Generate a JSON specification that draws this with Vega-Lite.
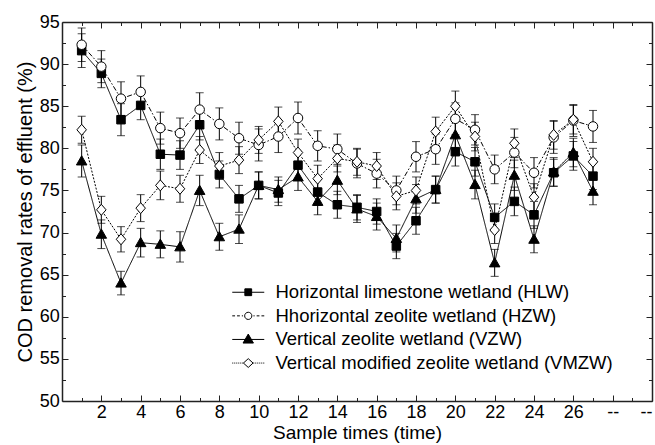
{
  "$schema": "https://vega.github.io/schema/vega-lite/v6.json",
  "width": 590,
  "height": 379,
  "autosize": {"type": "none"},
  "padding": {"left": 62, "top": 22, "right": 3, "bottom": 44},
  "background": "white",
  "config": {
    "view": {"stroke": null},
    "font": "Liberation Sans",
    "axis": {
      "grid": false,
      "domainColor": "#222222",
      "domainWidth": 1.5,
      "tickColor": "#222222",
      "tickWidth": 1,
      "labelFont": "Liberation Sans",
      "labelFontSize": 18,
      "labelColor": "black",
      "titleFont": "Liberation Sans",
      "titleFontSize": 20,
      "titleFontWeight": "normal",
      "titleColor": "black",
      "labelFlush": false,
      "labelOverlap": false
    }
  },
  "data": {
    "values": [
      {"x":1,"series":"HLW","y":91.6,"err":2.0},{"x":2,"series":"HLW","y":88.9,"err":1.7},{"x":3,"series":"HLW","y":83.4,"err":1.9},{"x":4,"series":"HLW","y":85.1,"err":1.7},{"x":5,"series":"HLW","y":79.3,"err":1.8},{"x":6,"series":"HLW","y":79.2,"err":1.7},{"x":7,"series":"HLW","y":82.8,"err":1.8},{"x":8,"series":"HLW","y":76.9,"err":1.6},{"x":9,"series":"HLW","y":74.0,"err":1.6},{"x":10,"series":"HLW","y":75.6,"err":1.6},{"x":11,"series":"HLW","y":74.7,"err":1.5},{"x":12,"series":"HLW","y":78.0,"err":1.6},{"x":13,"series":"HLW","y":74.8,"err":1.6},{"x":14,"series":"HLW","y":73.3,"err":1.6},{"x":15,"series":"HLW","y":73.0,"err":1.5},{"x":16,"series":"HLW","y":72.5,"err":1.5},{"x":17,"series":"HLW","y":68.4,"err":1.5},{"x":18,"series":"HLW","y":71.4,"err":1.6},{"x":19,"series":"HLW","y":75.1,"err":1.6},{"x":20,"series":"HLW","y":79.6,"err":1.7},{"x":21,"series":"HLW","y":78.4,"err":1.7},{"x":22,"series":"HLW","y":71.8,"err":1.6},{"x":23,"series":"HLW","y":73.7,"err":1.7},{"x":24,"series":"HLW","y":72.1,"err":1.6},{"x":25,"series":"HLW","y":77.1,"err":1.6},{"x":26,"series":"HLW","y":79.1,"err":1.7},{"x":27,"series":"HLW","y":76.7,"err":1.6},
      {"x":1,"series":"HZW","y":92.3,"err":2.0},{"x":2,"series":"HZW","y":89.7,"err":1.9},{"x":3,"series":"HZW","y":85.9,"err":2.0},{"x":4,"series":"HZW","y":86.7,"err":1.9},{"x":5,"series":"HZW","y":82.4,"err":1.9},{"x":6,"series":"HZW","y":81.8,"err":1.8},{"x":7,"series":"HZW","y":84.6,"err":2.0},{"x":8,"series":"HZW","y":82.9,"err":1.9},{"x":9,"series":"HZW","y":81.2,"err":1.9},{"x":10,"series":"HZW","y":80.4,"err":1.9},{"x":11,"series":"HZW","y":81.4,"err":1.9},{"x":12,"series":"HZW","y":83.6,"err":1.9},{"x":13,"series":"HZW","y":80.3,"err":1.8},{"x":14,"series":"HZW","y":79.9,"err":1.8},{"x":15,"series":"HZW","y":78.2,"err":1.7},{"x":16,"series":"HZW","y":77.0,"err":1.7},{"x":17,"series":"HZW","y":75.0,"err":1.7},{"x":18,"series":"HZW","y":79.0,"err":1.8},{"x":19,"series":"HZW","y":79.9,"err":1.8},{"x":20,"series":"HZW","y":83.5,"err":1.9},{"x":21,"series":"HZW","y":82.2,"err":1.8},{"x":22,"series":"HZW","y":77.5,"err":1.7},{"x":23,"series":"HZW","y":79.5,"err":1.8},{"x":24,"series":"HZW","y":77.1,"err":1.8},{"x":25,"series":"HZW","y":81.3,"err":1.9},{"x":26,"series":"HZW","y":83.3,"err":1.9},{"x":27,"series":"HZW","y":82.6,"err":1.9},
      {"x":1,"series":"VZW","y":78.5,"err":1.9},{"x":2,"series":"VZW","y":69.8,"err":1.7},{"x":3,"series":"VZW","y":64.0,"err":1.4},{"x":4,"series":"VZW","y":68.8,"err":1.7},{"x":5,"series":"VZW","y":68.6,"err":1.6},{"x":6,"series":"VZW","y":68.3,"err":1.8},{"x":7,"series":"VZW","y":75.0,"err":1.8},{"x":8,"series":"VZW","y":69.5,"err":1.6},{"x":9,"series":"VZW","y":70.4,"err":1.7},{"x":10,"series":"VZW","y":75.6,"err":1.6},{"x":11,"series":"VZW","y":75.1,"err":1.5},{"x":12,"series":"VZW","y":76.6,"err":1.6},{"x":13,"series":"VZW","y":73.7,"err":1.6},{"x":14,"series":"VZW","y":76.2,"err":1.7},{"x":15,"series":"VZW","y":72.8,"err":1.6},{"x":16,"series":"VZW","y":71.9,"err":1.6},{"x":17,"series":"VZW","y":69.3,"err":1.6},{"x":18,"series":"VZW","y":74.0,"err":1.7},{"x":19,"series":"VZW","y":75.1,"err":1.6},{"x":20,"series":"VZW","y":81.6,"err":1.8},{"x":21,"series":"VZW","y":75.7,"err":1.7},{"x":22,"series":"VZW","y":66.4,"err":1.6},{"x":23,"series":"VZW","y":76.8,"err":1.8},{"x":24,"series":"VZW","y":69.2,"err":1.6},{"x":25,"series":"VZW","y":77.2,"err":1.7},{"x":26,"series":"VZW","y":79.5,"err":1.7},{"x":27,"series":"VZW","y":74.9,"err":1.6},
      {"x":1,"series":"VMZW","y":82.2,"err":1.6},{"x":2,"series":"VMZW","y":72.7,"err":1.6},{"x":3,"series":"VMZW","y":69.2,"err":1.5},{"x":4,"series":"VMZW","y":72.9,"err":1.6},{"x":5,"series":"VMZW","y":75.6,"err":1.7},{"x":6,"series":"VMZW","y":75.2,"err":1.6},{"x":7,"series":"VMZW","y":79.8,"err":1.6},{"x":8,"series":"VMZW","y":77.9,"err":1.6},{"x":9,"series":"VMZW","y":78.6,"err":1.6},{"x":10,"series":"VMZW","y":81.0,"err":1.6},{"x":11,"series":"VMZW","y":83.2,"err":1.7},{"x":12,"series":"VMZW","y":79.5,"err":1.6},{"x":13,"series":"VMZW","y":76.4,"err":1.6},{"x":14,"series":"VMZW","y":78.8,"err":1.6},{"x":15,"series":"VMZW","y":78.4,"err":1.6},{"x":16,"series":"VMZW","y":77.9,"err":1.6},{"x":17,"series":"VMZW","y":74.3,"err":1.6},{"x":18,"series":"VMZW","y":75.0,"err":1.6},{"x":19,"series":"VMZW","y":82.0,"err":1.7},{"x":20,"series":"VMZW","y":85.0,"err":1.8},{"x":21,"series":"VMZW","y":81.4,"err":1.7},{"x":22,"series":"VMZW","y":70.3,"err":1.6},{"x":23,"series":"VMZW","y":80.6,"err":1.7},{"x":24,"series":"VMZW","y":74.2,"err":1.6},{"x":25,"series":"VMZW","y":81.6,"err":1.7},{"x":26,"series":"VMZW","y":83.4,"err":1.7},{"x":27,"series":"VMZW","y":78.4,"err":1.6}
    ]
  },
  "resolve": {
    "axis": {"x": "independent", "y": "independent"},
    "scale": {"shape": "independent", "fill": "independent"},
    "legend": {"shape": "independent", "fill": "independent"}
  },
  "layer": [
    {
      "mark": {"type": "errorbar", "ticks": true, "size": 8, "thickness": 1, "color": "black"},
      "encoding": {
        "x": {"field": "x", "type": "quantitative", "scale": {"domain": [0, 30], "nice": false}, "axis": null},
        "y": {"field": "y", "type": "quantitative", "scale": {"domain": [50, 95], "nice": false, "zero": false}, "axis": null},
        "yError": {"field": "err"},
        "detail": {"field": "series", "type": "nominal"}
      }
    },
    {
      "mark": {"type": "line", "color": "black", "strokeWidth": 1},
      "encoding": {
        "x": {"field": "x", "type": "quantitative", "scale": {"domain": [0, 30], "nice": false},
              "axis": {"orient": "top", "values": [2,4,6,8,10,12,14,16,18,20,22,24,26,28,30], "tickSize": -6, "labels": false, "title": null}},
        "y": {"field": "y", "type": "quantitative", "scale": {"domain": [50, 95], "nice": false, "zero": false},
              "axis": {"orient": "right", "values": [50,55,60,65,70,75,80,85,90,95], "tickSize": -6, "labels": false, "title": null}},
        "strokeDash": {"field": "series", "type": "nominal",
                       "scale": {"domain": ["HLW","HZW","VZW","VMZW"], "range": [[1,0],[5,2,1.5,2],[1,0],[2,1.5]]},
                       "legend": null}
      }
    },
    {
      "mark": {"type": "point", "filled": true, "stroke": "black", "strokeWidth": 1, "opacity": 1, "size": 100},
      "encoding": {
        "x": {"field": "x", "type": "quantitative", "scale": {"domain": [0, 30], "nice": false},
              "axis": {"orient": "bottom", "values": [2,4,6,8,10,12,14,16,18,20,22,24,26,28,30], "tickSize": -6, "labelPadding": 8.5,
                       "labelExpr": "datum.value >= 28 ? '--' : datum.label",
                       "labelAlign": {"condition": {"test": "datum.value == 30", "value": "right"}, "value": "center"},
                       "title": "Sample times (time)", "titleFontSize": 19, "titlePadding": 2}},
        "y": {"field": "y", "type": "quantitative", "scale": {"domain": [50, 95], "nice": false, "zero": false},
              "axis": {"orient": "left", "values": [50,55,60,65,70,75,80,85,90,95], "tickSize": -6, "labelPadding": 8.7,
                       "title": "COD removal rates of effluent (%)", "titlePadding": 4}},
        "shape": {"field": "series", "type": "nominal",
                  "scale": {"domain": ["HLW","HZW","VZW","VMZW"],
                            "range": ["M-0.85,-0.85H0.85V0.85H-0.85Z",
                                      "M0.95,0A0.95,0.95,0,1,1,-0.95,0A0.95,0.95,0,1,1,0.95,0Z",
                                      "M0,-1.05L1.05,0.8H-1.05Z",
                                      "M0,-1.1L0.95,0L0,1.1L-0.95,0Z"]},
                  "legend": null},
        "fill": {"field": "series", "type": "nominal",
                 "scale": {"domain": ["HLW","HZW","VZW","VMZW"], "range": ["black","white","black","white"]},
                 "legend": null}
      }
    },
    {
      "transform": [{"filter": "datum.x > 1000"}],
      "mark": {"type": "point", "filled": true, "stroke": "black", "strokeWidth": 1, "opacity": 1},
      "encoding": {
        "x": {"field": "x", "type": "quantitative", "scale": {"domain": [0, 30], "nice": false},
              "axis": {"orient": "bottom", "values": [1,3,5,7,9,11,13,15,17,19,21,23,25,27,29], "tickSize": -3.5, "labels": false, "domain": false, "title": null}},
        "y": {"field": "y", "type": "quantitative", "scale": {"domain": [50, 95], "nice": false, "zero": false},
              "axis": {"orient": "left", "values": [52.5,57.5,62.5,67.5,72.5,77.5,82.5,87.5,92.5], "tickSize": -3.5, "labels": false, "domain": false, "title": null}},
        "shape": {"field": "series", "type": "nominal",
                  "scale": {"domain": ["HLW","HZW","VZW","VMZW"],
                            "range": ["M-8,0H8M-1.7,-1.7H1.7V1.7H-1.7Z",
                                      "M-8,0H-6.6M-5.6,0H-4.2M-3.2,0H-2.6M2.6,0H3.2M4.2,0H5.6M6.6,0H8M1.8,0A1.8,1.8,0,1,1,-1.8,0A1.8,1.8,0,1,1,1.8,0Z",
                                      "M-8,0H8M0,-2.7L2.6,1.8H-2.6Z",
                                      "M-8,0H-7.5M-7,0H-6.5M-6,0H-5.5M-5,0H-4.5M-4,0H-3.5M-3,0H-2.5M2.5,0H3M3.5,0H4M4.5,0H5M5.5,0H6M6.5,0H7M7.5,0H8M0,-2.2L2.4,0L0,2.2L-2.4,0Z"]},
                  "legend": {"title": null, "orient": "none", "legendX": 177, "legendY": 261, "padding": 0,
                             "symbolSize": 16, "labelOffset": 18, "labelFont": "Liberation Sans", "labelFontSize": 18.5, "labelColor": "black",
                             "labelLimit": 500, "rowPadding": 4.6, "symbolStrokeColor": "black", "symbolStrokeWidth": 1, "symbolOpacity": 1,
                             "encode": {"symbols": {"update": {"stroke": {"value": "black"}, "strokeWidth": {"value": 1}, "opacity": {"value": 1}}}},
                             "labelExpr": "{'HLW':'Horizontal limestone wetland (HLW)','HZW':'Hhorizontal zeolite wetland (HZW)','VZW':'Vertical zeolite wetland (VZW)','VMZW':'Vertical modified zeolite wetland (VMZW)'}[datum.label]"}},
        "fill": {"field": "series", "type": "nominal",
                 "scale": {"domain": ["HLW","HZW","VZW","VMZW"], "range": ["black","white","black","white"]},
                 "legend": {"title": null, "orient": "none", "legendX": 177, "legendY": 261, "padding": 0,
                             "symbolSize": 16, "labelOffset": 18, "labelFont": "Liberation Sans", "labelFontSize": 18.5, "labelColor": "black",
                             "labelLimit": 500, "rowPadding": 4.6, "symbolStrokeColor": "black", "symbolStrokeWidth": 1, "symbolOpacity": 1,
                             "encode": {"symbols": {"update": {"stroke": {"value": "black"}, "strokeWidth": {"value": 1}, "opacity": {"value": 1}}}},
                             "labelExpr": "{'HLW':'Horizontal limestone wetland (HLW)','HZW':'Hhorizontal zeolite wetland (HZW)','VZW':'Vertical zeolite wetland (VZW)','VMZW':'Vertical modified zeolite wetland (VMZW)'}[datum.label]"}}
      }
    },
    {
      "transform": [{"filter": "datum.x > 1000"}],
      "mark": {"type": "point", "opacity": 0},
      "encoding": {
        "x": {"field": "x", "type": "quantitative", "scale": {"domain": [0, 30], "nice": false},
              "axis": {"orient": "top", "values": [1,3,5,7,9,11,13,15,17,19,21,23,25,27,29], "tickSize": -3.5, "labels": false, "domain": false, "title": null}},
        "y": {"field": "y", "type": "quantitative", "scale": {"domain": [50, 95], "nice": false, "zero": false},
              "axis": {"orient": "right", "values": [52.5,57.5,62.5,67.5,72.5,77.5,82.5,87.5,92.5], "tickSize": -3.5, "labels": false, "domain": false, "title": null}}
      }
    }
  ]
}
